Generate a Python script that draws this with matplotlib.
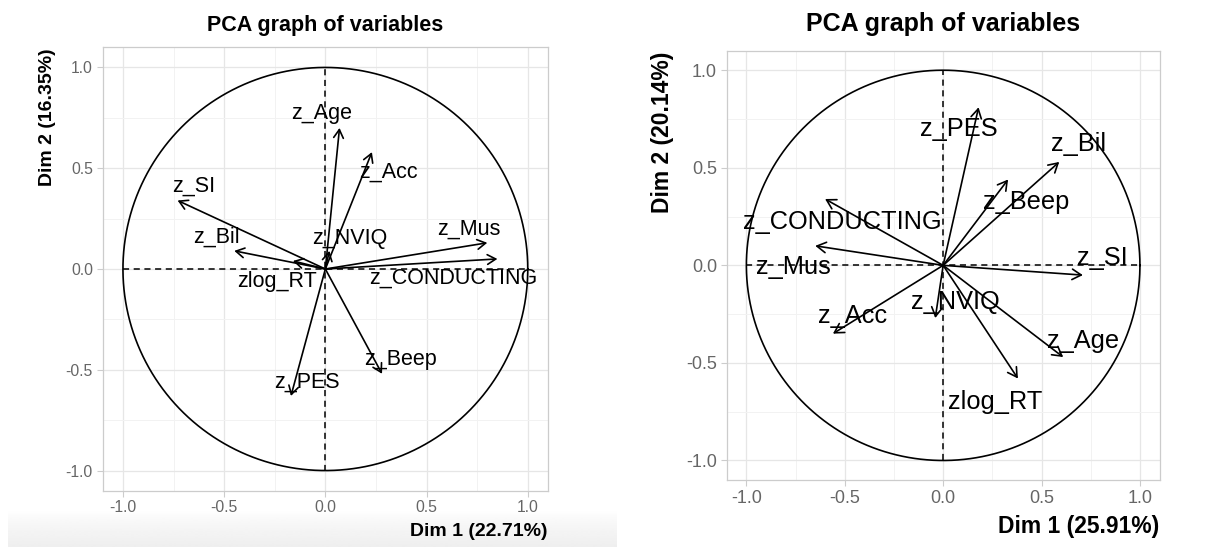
import numpy as np
import matplotlib
matplotlib.use("Agg")
import matplotlib.pyplot as plt

plt.rcParams["font.family"] = ["Liberation Sans", "DejaVu Sans"]

# ---- data: variable coordinates on the first two dimensions ----
left_vars = ["z_Age", "z_Acc", "z_SI", "z_Bil", "z_NVIQ", "z_Mus",
             "z_CONDUCTING", "zlog_RT", "z_Beep", "z_PES"]
left_dim1 = [0.07, 0.23, -0.73, -0.45, 0.02, 0.80, 0.85, -0.16, 0.28, -0.17]
left_dim2 = [0.70, 0.58, 0.34, 0.09, 0.09, 0.13, 0.05, 0.04, -0.52, -0.63]
left_xlabel = "Dim 1 (22.71%)"
left_ylabel = "Dim 2 (16.35%)"

right_vars = ["z_PES", "z_Bil", "z_Beep", "z_CONDUCTING", "z_Mus", "z_SI",
              "z_NVIQ", "z_Acc", "z_Age", "zlog_RT"]
right_dim1 = [0.18, 0.59, 0.33, -0.60, -0.65, 0.71, -0.04, -0.56, 0.61, 0.38]
right_dim2 = [0.81, 0.53, 0.44, 0.34, 0.10, -0.05, -0.27, -0.35, -0.47, -0.58]
right_xlabel = "Dim 1 (25.91%)"
right_ylabel = "Dim 2 (20.14%)"

title = "PCA graph of variables"
ticks = [-1.0, -0.5, 0.0, 0.5, 1.0]
tick_labels = ["-1.0", "-0.5", "0.0", "0.5", "1.0"]

# label placement relative to each arrow tip (data units)
left_label_offset = {
    "z_Age": (-0.09, 0.07), "z_Acc": (0.08, -0.10), "z_SI": (0.08, 0.07),
    "z_Bil": (-0.09, 0.07), "z_NVIQ": (0.10, 0.06), "z_Mus": (-0.09, 0.07),
    "z_CONDUCTING": (-0.22, -0.095), "zlog_RT": (-0.08, -0.10),
    "z_Beep": (0.09, 0.07), "z_PES": (0.08, 0.07),
}
right_label_offset = {
    "z_PES": (-0.10, -0.11), "z_Bil": (0.10, 0.09), "z_Beep": (0.09, -0.115),
    "z_CONDUCTING": (0.09, -0.12), "z_Mus": (-0.11, -0.11), "z_SI": (0.10, 0.09),
    "z_NVIQ": (0.10, 0.08), "z_Acc": (0.10, 0.09), "z_Age": (0.10, 0.08),
    "zlog_RT": (-0.115, -0.12),
}

W, H = 1208, 547
fig = plt.figure(figsize=(W / 100, H / 100), dpi=100)
fig.patch.set_facecolor("white")

# soft grey band along the bottom of the left screen (white at top, grey below)
band = fig.add_axes([8 / W, 0, (616 - 8) / W, 36 / H], zorder=-5)
grad = np.linspace(0, 1, 64)[:, None] ** 0.7
band.imshow(1 - 0.065 * grad, cmap="gray", vmin=0, vmax=1, aspect="auto",
            origin="upper", extent=[0, 1, 0, 1], interpolation="bilinear")
band.set_axis_off()


def px_box(x0, x1, ytop, ybot):
    return [x0 / W, 1 - ybot / H, (x1 - x0) / W, (ybot - ytop) / H]


def draw_panel(box, names, d1, d2, offsets, label_fs, tick_fs, head):
    ax = fig.add_axes(box)
    ax.set_xlim(-1.1, 1.1)
    ax.set_ylim(-1.1, 1.1)
    ax.set_xticks(ticks)
    ax.set_xticklabels(tick_labels)
    ax.set_yticks(ticks)
    ax.set_yticklabels(tick_labels)
    ax.set_xticks([-0.75, -0.25, 0.25, 0.75], minor=True)
    ax.set_yticks([-0.75, -0.25, 0.25, 0.75], minor=True)
    ax.grid(which="major", color="#e6e6e6", lw=0.9)
    ax.grid(which="minor", color="#f2f2f2", lw=0.7)
    ax.set_axisbelow(True)
    for s in ax.spines.values():
        s.set_color("#cccccc")
        s.set_linewidth(0.9)
    ax.tick_params(which="major", length=4, width=0.8, color="#cccccc",
                   labelcolor="#666666", labelsize=tick_fs, pad=3)
    ax.tick_params(which="minor", length=0)

    th = np.linspace(0, 2 * np.pi, 400)
    ax.plot(np.cos(th), np.sin(th), color="black", lw=1.2, zorder=2)
    ax.plot([-1, 1], [0, 0], color="black", lw=1.1, ls=(0, (4, 3)), zorder=2)
    ax.plot([0, 0], [-1, 1], color="black", lw=1.1, ls=(0, (4, 3)), zorder=2)

    for n, x, y in zip(names, d1, d2):
        ax.annotate("", xy=(x, y), xytext=(0, 0),
                    arrowprops=dict(arrowstyle="->,head_length=0.5,head_width=0.29",
                                    mutation_scale=head, lw=1.2, color="black",
                                    shrinkA=0, shrinkB=0), zorder=3)
        dx, dy = offsets[n]
        ax.text(x + dx, y + dy, n, ha="center", va="center",
                fontsize=label_fs, color="black", zorder=4)
    return ax


draw_panel(px_box(102.7, 548, 47.3, 490.7), left_vars, left_dim1, left_dim2,
           left_label_offset, 15.5, 11.3, 12)
draw_panel(px_box(726.7, 1159.6, 50.7, 480), right_vars, right_dim1, right_dim2,
           right_label_offset, 18.3, 13, 13)

# titles and axis titles
fig.text(325.3 / W, 1 - 25 / H, title, ha="center", va="center",
         fontsize=15.5, fontweight="bold")
fig.text(943.1 / W, 1 - 23.5 / H, title, ha="center", va="center",
         fontsize=18, fontweight="bold")
fig.text(48 / W, 1 - 48 / H, left_ylabel, rotation=90, ha="center", va="top",
         fontsize=14, fontweight="bold")
fig.text(662.4 / W, 1 - 51.7 / H, right_ylabel, rotation=90, ha="center",
         va="top", fontsize=16.5, fontweight="bold")
fig.text(548 / W, 1 - 531 / H, left_xlabel, ha="right", va="center",
         fontsize=14, fontweight="bold")
fig.text(1159.6 / W, 1 - 527 / H, right_xlabel, ha="right", va="center",
         fontsize=16.5, fontweight="bold")

fig.savefig("out.png", dpi=100, facecolor="white")
